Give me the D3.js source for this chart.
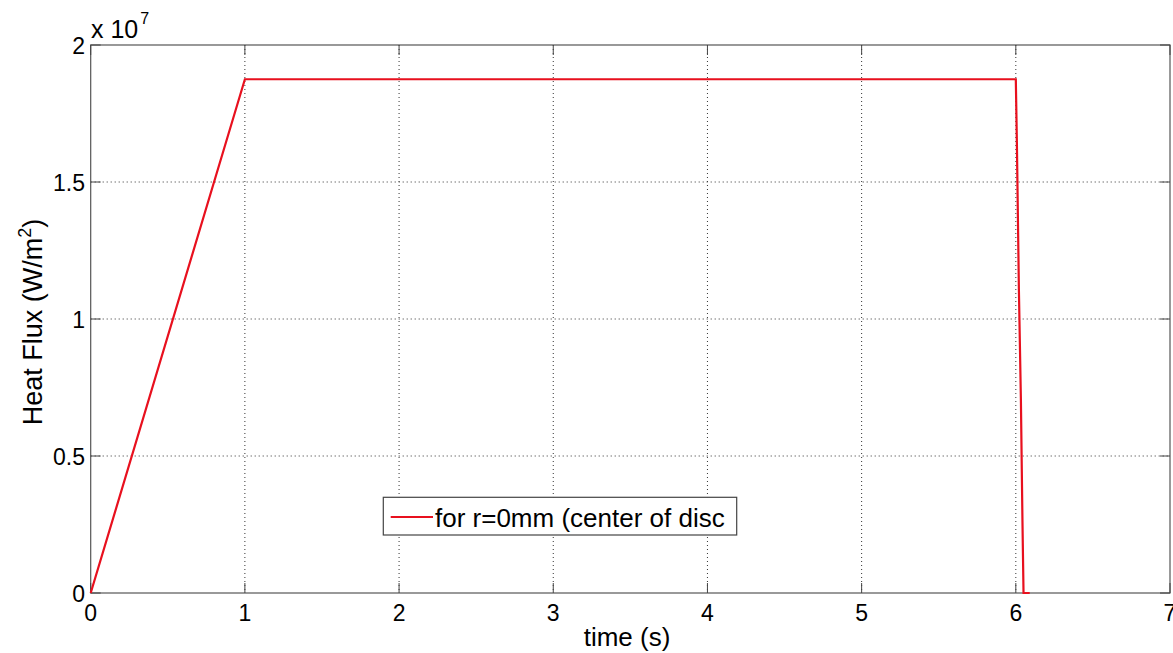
<!DOCTYPE html>
<html><head><meta charset="utf-8">
<script src="https://cdn.jsdelivr.net/npm/d3@7"></script>
<style>
body{margin:0;background:#fff;}
text{font-family:Arial,"Liberation Sans",sans-serif;fill:#000;}
</style></head>
<body><svg id="c" width="1173" height="653"></svg>
<script>
const timeValues = [0, 1, 6.0, 6.007, 6.02, 6.033, 6.043, 6.05, 6.09];
const fluxValues = [0, 1.875e7, 1.875e7, 1.64e7, 1.106e7, 0.704e7, 0.266e7, 0, 0];
const xTicks = [0, 1, 2, 3, 4, 5, 6, 7];
const yTicks = [0, 0.5e7, 1e7, 1.5e7, 2e7];
const yTickLabels = ["0", "0.5", "1", "1.5", "2"];
const seriesName = "for r=0mm (center of disc";

const svg = d3.select("#c");
const L = 90.7, R = 1170, T = 45, B = 593;
const x = d3.scaleLinear().domain([0, 7]).range([L, R]);
const y = d3.scaleLinear().domain([0, 2e7]).range([B, T]);

// grid
const g = svg.append("g");
g.selectAll(".vg").data(xTicks.slice(1, -1)).enter().append("line")
  .attr("x1", d => x(d)).attr("x2", d => x(d)).attr("y1", T).attr("y2", B)
  .attr("stroke", "#333").attr("stroke-width", 1).attr("stroke-dasharray", "1,3");
g.selectAll(".hg").data(yTicks.slice(1, -1)).enter().append("line")
  .attr("y1", d => y(d)).attr("y2", d => y(d)).attr("x1", L).attr("x2", R)
  .attr("stroke", "#333").attr("stroke-width", 1).attr("stroke-dasharray", "1,3");

// box
svg.append("rect").attr("x", L).attr("y", T).attr("width", R - L).attr("height", B - T)
  .attr("fill", "none").attr("stroke", "#555").attr("stroke-width", 1.2);

// ticks inward on all sides
const tl = 10;
xTicks.forEach(d => {
  svg.append("line").attr("x1", x(d)).attr("x2", x(d)).attr("y1", B).attr("y2", B - tl).attr("stroke", "#444");
  svg.append("line").attr("x1", x(d)).attr("x2", x(d)).attr("y1", T).attr("y2", T + tl).attr("stroke", "#444");
});
yTicks.forEach(d => {
  svg.append("line").attr("x1", L).attr("x2", L + tl).attr("y1", y(d)).attr("y2", y(d)).attr("stroke", "#444");
  svg.append("line").attr("x1", R).attr("x2", R - tl).attr("y1", y(d)).attr("y2", y(d)).attr("stroke", "#444");
});

// tick labels
svg.selectAll(".xt").data(xTicks).enter().append("text")
  .attr("x", d => x(d)).attr("y", 621).attr("text-anchor", "middle")
  .attr("font-size", 23).text(d => d);
svg.selectAll(".yt").data(yTicks).enter().append("text")
  .attr("x", 85).attr("y", d => y(d) + 8.5).attr("text-anchor", "end")
  .attr("font-size", 23).text((d, i) => yTickLabels[i]);

// exponent
const ex = svg.append("text").attr("x", 91).attr("y", 38).attr("font-size", 25);
ex.append("tspan").text("x 10");
ex.append("tspan").attr("font-size", 16).attr("dy", -14).attr("dx", 2).text("7");

// axis labels
svg.append("text").attr("x", 627).attr("y", 646).attr("text-anchor", "middle")
  .attr("font-size", 26).text("time (s)");
const yl = svg.append("text").attr("transform", "translate(42,322) rotate(-90)")
  .attr("text-anchor", "middle").attr("font-size", 27);
yl.append("tspan").text("Heat Flux (W/m");
yl.append("tspan").attr("font-size", 18).attr("dy", -11).text("2");
yl.append("tspan").attr("dy", 11).text(")");

// line
const data = timeValues.map((t, i) => [t, fluxValues[i]]);
svg.append("path").datum(data)
  .attr("d", d3.line().x(d => x(d[0])).y(d => y(d[1])))
  .attr("fill", "none").attr("stroke", "#e8101e").attr("stroke-width", 2.2)
  .attr("stroke-linejoin", "miter");

// legend
const lg = svg.append("g");
lg.append("rect").attr("x", 383.3).attr("y", 497.3).attr("width", 353.4).attr("height", 37.7)
  .attr("fill", "#fff").attr("stroke", "#444").attr("stroke-width", 1.2);
lg.append("line").attr("x1", 390.7).attr("x2", 433).attr("y1", 517).attr("y2", 517)
  .attr("stroke", "#e8101e").attr("stroke-width", 2.2);
lg.append("text").attr("x", 435).attr("y", 527).attr("font-size", 26).text(seriesName);
</script></body></html>
